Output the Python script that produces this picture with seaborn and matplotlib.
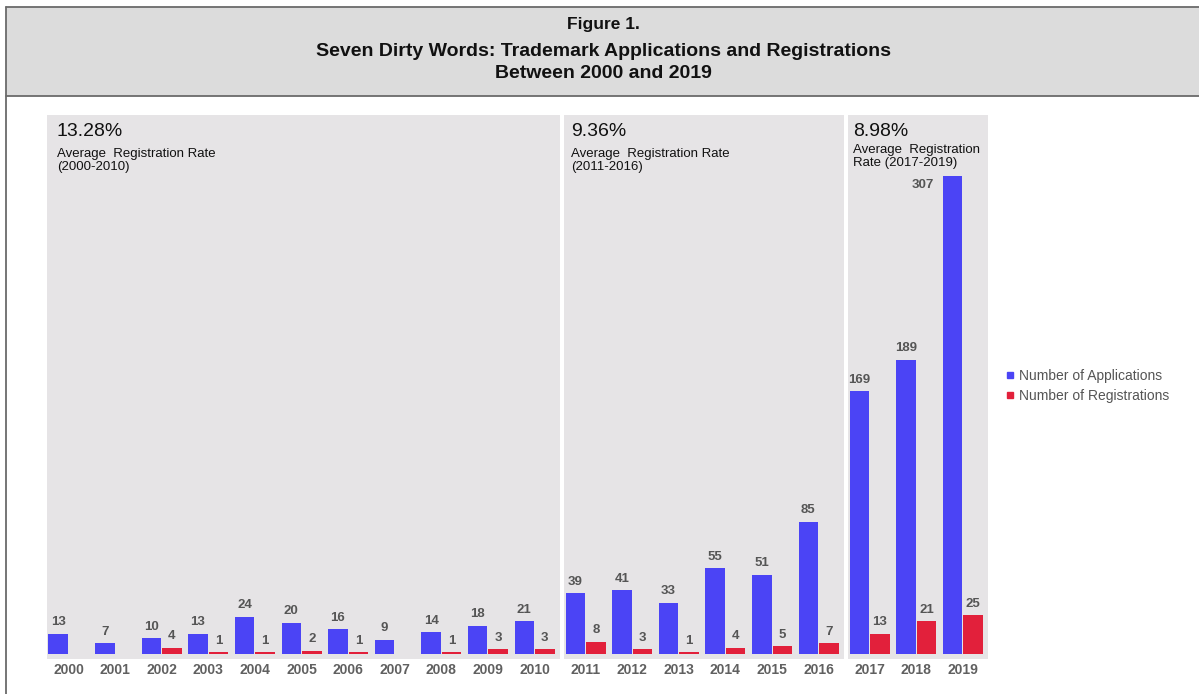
import matplotlib
matplotlib.use("Agg")
import matplotlib.pyplot as plt
from matplotlib.patches import Rectangle
from matplotlib.lines import Line2D
import seaborn as sns
import pandas as pd

# Data
years = [str(y) for y in range(2000, 2020)]
applications = [13, 7, 10, 13, 24, 20, 16, 9, 14, 18, 21,
                39, 41, 33, 55, 51, 85,
                169, 189, 307]
registrations = [0, 0, 4, 1, 1, 2, 1, 0, 1, 3, 3,
                 8, 3, 1, 4, 5, 7,
                 13, 21, 25]
period_rates = ["13.28%", "9.36%", "8.98%"]
period_notes = ["Average  Registration Rate\n(2000-2010)",
                "Average  Registration Rate\n(2011-2016)",
                "Average  Registration\nRate (2017-2019)"]
period_sizes = [11, 6, 3]
series_names = ["Number of Applications", "Number of Registrations"]
title_lines = ["Figure 1.",
               "Seven Dirty Words: Trademark Applications and Registrations",
               "Between 2000 and 2019"]

BLUE = "#4b44f5"
RED = "#e2203b"
PANEL = "#e6e4e6"
TEXT = "#555555"

sns.set_theme(style="white")
plt.rcParams["font.family"] = ["Liberation Sans", "DejaVu Sans"]

df = pd.DataFrame({
    "Year": years * 2,
    "Series": [series_names[0]] * len(years) + [series_names[1]] * len(years),
    "Count": applications + registrations,
})

W, H = 1199, 694
PX = 72 / 100  # points per pixel at 100 dpi
fig = plt.figure(figsize=(W / 100, H / 100), dpi=100)
fig.patch.set_facecolor("white")

# Title band with frame lines
fig.patches.append(Rectangle((6 / W, 1 - 96 / H), 1 - 6 / W, (96 - 7) / H,
                             transform=fig.transFigure, facecolor="#dcdcdc",
                             edgecolor="none", zorder=0))
for (x0, y0, x1, y1) in [(6, 7, W, 7), (6, 96, W, 96), (6, 7, 6, H)]:
    fig.lines.append(Line2D([x0 / W, x1 / W], [1 - y0 / H, 1 - y1 / H],
                            transform=fig.transFigure, color="#6a6a6a", lw=1.3))
for txt, y, fs in zip(title_lines, [25, 52, 74], [12.5, 14, 14]):
    fig.text(0.503, 1 - y / H, txt, ha="center", va="center", fontsize=fs,
             fontweight="bold", color="#111111")

gs = fig.add_gridspec(1, 3, width_ratios=period_sizes,
                      left=47 / W, right=988 / W, top=1 - 115 / H,
                      bottom=1 - 659 / H, wspace=0.014)

text_dx = [10, 7, 5]          # left inset of the period captions, px
note_dy = [33, 33, 29]        # top of the caption notes below panel top, px
start = 0
ymin, ymax = -3.2, 346.5
for i, n in enumerate(period_sizes):
    ax = fig.add_subplot(gs[0, i])
    sub_years = years[start:start + n]
    sub = df[df["Year"].isin(sub_years)]
    sns.barplot(data=sub, x="Year", y="Count", hue="Series", order=sub_years,
                hue_order=series_names, palette=[BLUE, RED], width=0.88,
                gap=0.05, saturation=1, legend=False, linewidth=0, ax=ax)
    ax.set_facecolor(PANEL)
    ax.set_ylim(ymin, ymax)
    ax.set_xlim(-0.46, n - 0.46)
    ax.set_xlabel("")
    ax.set_ylabel("")
    ax.set_yticks([])
    for s in ax.spines.values():
        s.set_visible(False)
    ax.tick_params(axis="x", length=0, pad=3, labelsize=10, labelcolor="#606060")
    for lab in ax.get_xticklabels():
        lab.set_fontweight("bold")

    for cont in ax.containers:
        labels = []
        for p in cont:
            v = p.get_height()
            if v == 0:
                p.set_visible(False)
                labels.append("")
            elif v > 0.8 * ymax:
                # no room above the tallest bar: put its value beside it
                ax.annotate(f"{int(v)}", (p.get_x(), p.get_y() + v),
                            xytext=(-9 * PX, -9 * PX), textcoords="offset points",
                            ha="right", va="center", fontsize=9.5,
                            fontweight="bold", color=TEXT)
                labels.append("")
            else:
                labels.append(f"{int(v)}")
        ax.bar_label(cont, labels=labels, padding=4, fontsize=9.5,
                     fontweight="bold", color=TEXT)

    ax.annotate(period_rates[i], (0, 1), xycoords="axes fraction",
                xytext=(text_dx[i] * PX, -16 * PX), textcoords="offset points",
                ha="left", va="center", fontsize=14, color="#111111")
    ax.annotate(period_notes[i], (0, 1), xycoords="axes fraction",
                xytext=(text_dx[i] * PX, -note_dy[i] * PX), textcoords="offset points",
                ha="left", va="top", fontsize=9.5, color="#111111", linespacing=1.12)
    start += n

handles = [Line2D([], [], marker="s", linestyle="none", markersize=4.5,
                  markerfacecolor=c, markeredgecolor=c) for c in (BLUE, RED)]
fig.legend(handles, series_names, loc="center left",
           bbox_to_anchor=(1000 / W, 1 - 386 / H), frameon=False,
           fontsize=10, labelcolor=TEXT, handlelength=0.5, handletextpad=0.35,
           labelspacing=0.45, borderpad=0)

fig.savefig("out.png", dpi=100, facecolor="white")
